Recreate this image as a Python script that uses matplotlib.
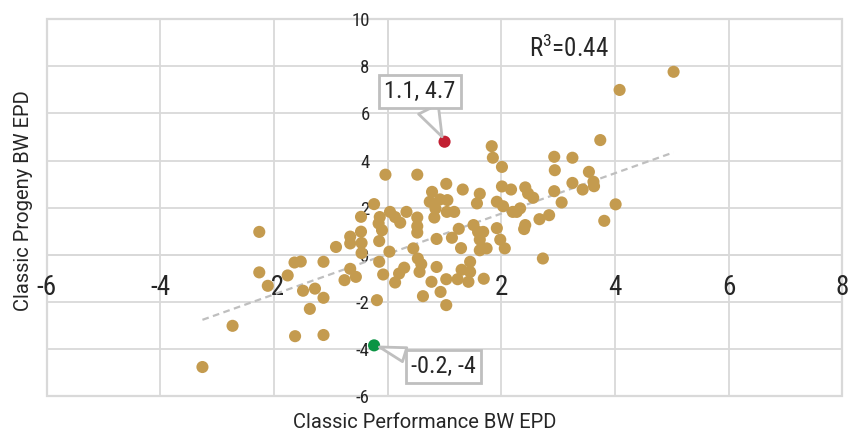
import matplotlib
matplotlib.use("Agg")
import matplotlib.pyplot as plt
from matplotlib import font_manager
from matplotlib.patches import Rectangle
import numpy as np

# ---------------- data ----------------
perf_bw = [-3.26, -2.73, -2.26, -2.26, -2.11, -1.76, -1.64, -1.53, -1.13, -1.49,
           -1.28, -1.13, -1.37, -1.63, -1.13, -0.91, -0.66, -0.66, -0.76, -0.66,
           -0.56, -0.47, -0.47, -0.46, -0.46, -0.24, -0.19, -0.14, -0.16, -0.10,
           -0.15, -0.15, -0.08, 0.03, -0.04, 0.52, 0.04, 0.13, 0.22, 0.33,
           0.52, 0.52, 0.52, 0.45, 0.53, 0.59, 0.56, 0.13, 0.20, 0.29,
           0.62, 0.86, 0.77, 0.93, 1.03, 1.03, 0.86, 0.78, 0.74, 0.84,
           1.03, 0.92, 1.05, 1.04, 1.17, 0.82, 1.32, 1.25, 1.13, 1.29,
           1.23, 1.30, 1.45, 1.45, 1.42, 1.69, 1.57, 1.62, 1.51, 1.59,
           1.68, 1.62, 1.62, 1.74, 1.92, 1.98, 2.06, 2.01, 2.17, 1.92,
           2.03, 2.20, 1.83, 1.85, 2.01, 2.33, 2.27, 2.42, 2.47, 2.56,
           2.42, 2.40, 2.67, 2.84, 2.93, 2.94, 2.93, 3.06, 3.25, 3.25,
           3.43, 3.54, 3.62, 3.63, 3.74, 4.01, 3.81, 2.73, 4.08, 5.03]
progeny_bw = [-4.77, -3.02, 0.97, -0.75, -1.32, -0.88, -0.33, -0.29, -0.30, -1.53,
              -1.44, -1.83, -2.30, -3.46, -3.41, 0.33, 0.77, 0.48, -1.08, -0.60,
              -0.94, 1.61, 0.98, 0.50, 0.07, 2.15, -1.93, 1.60, 1.33, 1.04,
              0.58, -0.30, -0.84, 0.13, 3.40, 3.40, 1.82, 1.60, 1.36, 1.82,
              1.58, 1.21, 0.94, 0.27, -0.16, -0.40, -0.73, -1.18, -0.80, -0.55,
              -1.76, -0.52, -1.15, -1.58, -1.04, -2.14, 0.67, 2.67, 2.25, 1.96,
              3.01, 2.35, 2.32, 1.82, 1.82, 1.58, 2.77, 1.10, 0.72, 0.28,
              -1.04, -0.64, -0.30, -0.73, -1.15, -1.02, 2.18, 2.59, 1.26, 0.97,
              0.97, 0.64, 0.19, 0.27, 1.13, 0.64, 0.27, 2.90, 2.77, 2.25,
              2.06, 1.82, 4.61, 4.12, 3.73, 1.97, 1.82, 2.86, 2.60, 2.42,
              1.26, 1.09, 1.51, 1.68, 4.16, 3.59, 2.70, 2.22, 4.12, 3.05,
              2.77, 3.52, 3.10, 2.91, 4.87, 2.14, 1.44, -0.16, 7.00, 7.77]

high_point = (1.0, 4.8)
high_label = "1.1, 4.7"
low_point = (-0.24, -3.85)
low_label = "-0.2, -4"

trend_slope = 0.858
trend_intercept = 0.032
r_label = "R$^3$=0.44"

x_ticks = [-6, -4, -2, 0, 2, 4, 6, 8]
x_tick_labels = ["-6", "-4", "-2", "", "2", "4", "6", "8"]
y_ticks = [-6, -4, -2, 0, 2, 4, 6, 8, 10]
y_tick_labels = ["-6", "-4", "-2", "0", "2", "4", "6", "8", "10"]

x_title = "Classic Performance BW EPD"
y_title = "Classic Progeny BW EPD"

# ---------------- fonts ----------------
def pick_condensed():
    cands = [("Roboto Condensed", "normal"), ("Liberation Sans Narrow", "normal"),
             ("Roboto", "condensed"), ("DejaVu Sans", "condensed")]
    for fam, st in cands:
        try:
            fp = font_manager.FontProperties(family=fam, stretch=st)
            f = font_manager.findfont(fp, fallback_to_default=False)
            low = f.lower()
            if "condensed" in low or "narrow" in low:
                return fam, st
        except Exception:
            pass
    return "Roboto", "normal"

cond_family, cond_stretch = pick_condensed()
plt.rcParams['font.family'] = ['Roboto', 'DejaVu Sans']
plt.rcParams['mathtext.fontset'] = 'custom'
plt.rcParams['mathtext.rm'] = cond_family

gold = "#C49B4F"
red = "#C21F32"
green = "#0B9444"
grid_c = "#D9D9D9"
text_c = "#262626"

fig = plt.figure(figsize=(8.54, 4.33), dpi=100)
ax = fig.add_axes([0.0547, 0.0855, 0.9317, 0.8699])
ax.set_xlim(-6, 8)
ax.set_ylim(-6, 10)

ax.set_xticks(x_ticks)
ax.set_yticks(y_ticks)
ax.grid(True, color=grid_c, lw=1.3, zorder=0)
ax.set_axisbelow(True)
for s in ["top", "right"]:
    ax.spines[s].set_visible(False)
ax.spines["left"].set_position(("data", 0))
ax.spines["bottom"].set_position(("data", 0))
ax.spines["left"].set_color(grid_c)
ax.spines["bottom"].set_color(grid_c)
ax.spines["left"].set_linewidth(1.3)
ax.spines["bottom"].set_linewidth(1.3)
ax.add_patch(Rectangle((0, 0), 1, 1, transform=ax.transAxes, fill=False,
                       ec=grid_c, lw=1.6, zorder=0.5, clip_on=False))

ax.set_xticklabels(x_tick_labels, fontsize=19.5, color=text_c,
                   family=cond_family, stretch=cond_stretch)
ax.set_yticklabels(y_tick_labels, fontsize=13.5, color=text_c,
                   family=cond_family, stretch=cond_stretch)
ax.tick_params(axis="x", length=0, pad=14)
ax.tick_params(axis="y", length=0, pad=13)

# trend line
xs = np.array([min(perf_bw), max(perf_bw)])
ax.plot(xs, trend_slope * xs + trend_intercept, color="#BFBFBF", lw=1.6,
        linestyle=(0, (3, 2)), zorder=2)

ax.scatter(perf_bw, progeny_bw, s=76, color=gold, edgecolors="none", zorder=3)
ax.scatter([high_point[0]], [high_point[1]], s=76, color=red, edgecolors="none", zorder=4)
ax.scatter([low_point[0]], [low_point[1]], s=76, color=green, edgecolors="none", zorder=4)

box = dict(boxstyle="square,pad=0.22", fc="white", ec="#BFBFBF", lw=2)
ax.annotate(high_label, xy=high_point, xytext=(0.56, 6.94), ha="center", va="center",
            fontsize=17.5, color=text_c, family=cond_family, stretch=cond_stretch,
            bbox=box, zorder=5,
            arrowprops=dict(arrowstyle="wedge,tail_width=0.9,shrink_factor=0.5",
                            fc="white", ec="#BFBFBF", lw=2, shrinkA=0, shrinkB=4))
ax.annotate(low_label, xy=low_point, xytext=(0.98, -4.75), ha="center", va="center",
            fontsize=17.5, color=text_c, family=cond_family, stretch=cond_stretch,
            bbox=box, zorder=5,
            arrowprops=dict(arrowstyle="wedge,tail_width=0.6,shrink_factor=0.5",
                            fc="white", ec="#BFBFBF", lw=2, shrinkA=0, shrinkB=4))

ax.text(3.18, 8.77, r_label, ha="center", va="center", fontsize=18, color=text_c,
        family=cond_family, stretch=cond_stretch, zorder=5)

fig.text(425 / 854, 1 - 422 / 433, x_title, ha="center", va="center",
         fontsize=14.5, color=text_c)
fig.text(24 / 854, 1 - 201 / 433, y_title, ha="center", va="center",
         rotation=90, fontsize=14.5, color=text_c)

fig.savefig("out.png", dpi=100)
